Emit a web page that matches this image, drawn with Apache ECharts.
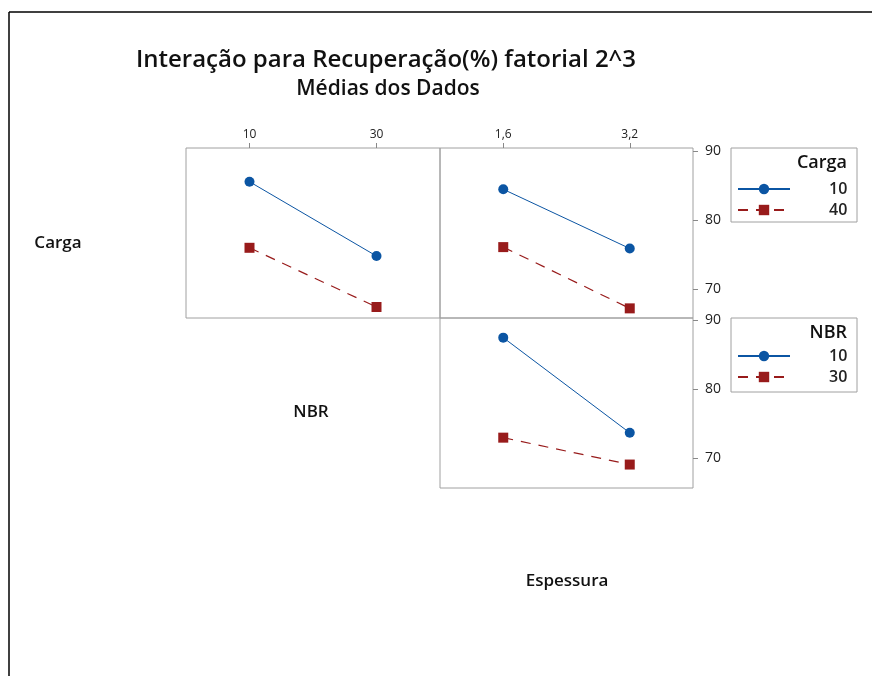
<!DOCTYPE html>
<html>
<head>
<meta charset="utf-8">
<script src="https://cdn.jsdelivr.net/npm/echarts@6/dist/echarts.min.js"></script>
<style>
  html, body { margin: 0; padding: 0; background: #fff; }
  #main { width: 872px; height: 676px; }
</style>
</head>
<body>
<div id="main"></div>
<script>
// dados (médias)
var nbrLevels = ['10', '30'];
var espLevels = ['1,6', '3,2'];
var yTicks = [70, 80, 90];

// Carga x NBR
var cargaNbr10 = [85.6, 74.8];
var cargaNbr40 = [76.0, 67.4];
// Carga x Espessura
var cargaEsp10 = [84.5, 75.9];
var cargaEsp40 = [76.1, 67.2];
// NBR x Espessura
var nbrEsp10 = [87.5, 73.7];
var nbrEsp30 = [73.0, 69.1];

var BLUE = '#0b55a3';
var RED = '#981b1b';
var FONT = '"Open Sans", "Noto Sans", sans-serif';

var chart = echarts.init(document.getElementById('main'));

function blueLine(name, x, y, data) {
  return {
    name: name, type: 'line', xAxisIndex: x, yAxisIndex: y, data: data,
    symbol: 'circle', symbolSize: 10,
    itemStyle: { color: BLUE },
    lineStyle: { color: BLUE, width: 1 },
    animation: false
  };
}
function redLine(name, x, y, data) {
  return {
    name: name, type: 'line', xAxisIndex: x, yAxisIndex: y, data: data,
    symbol: 'rect', symbolSize: 10,
    itemStyle: { color: RED },
    lineStyle: { color: RED, width: 1.2, type: [10, 8] },
    animation: false
  };
}
function xAx(grid, cats, showLabels) {
  return {
    type: 'category', gridIndex: grid, data: cats, position: 'top',
    boundaryGap: true,
    axisLine: { show: false },
    axisTick: { show: showLabels, alignWithLabel: true, length: 5, lineStyle: { color: '#888' } },
    axisLabel: { show: showLabels, margin: 7, color: '#222', fontSize: 12, fontFamily: FONT }
  };
}
function yAx(grid, min, max, show) {
  return {
    type: 'value', gridIndex: grid, min: min, max: max, position: 'right',
    splitLine: { show: false },
    axisLine: { show: false },
    axisTick: { show: show, length: 5, lineStyle: { color: '#888' }, customValues: yTicks },
    axisLabel: { show: show, margin: 12, color: '#222', fontSize: 14, fontFamily: FONT, customValues: yTicks }
  };
}
function legendAt(top, names) {
  return {
    left: 737, top: top, orient: 'vertical', padding: 0,
    data: names,
    itemWidth: 52, itemHeight: 13, itemGap: 5,
    selectedMode: false,
    textStyle: { color: '#222', fontSize: 16, lineHeight: 16, fontWeight: 600, fontFamily: FONT, padding: [0, 0, 0, 34] }
  };
}
function label(x, y, text, size, align) {
  return {
    type: 'text', x: x, y: y,
    style: { text: text, textAlign: align || 'center', textVerticalAlign: 'middle', font: '600 ' + size + 'px ' + FONT, fill: '#111' }
  };
}

var option = {
  backgroundColor: '#fff',
  textStyle: { fontFamily: FONT },
  grid: [
    { left: 186, top: 148, width: 254, height: 170, show: true, borderColor: '#a0a0a0', borderWidth: 1 },
    { left: 440, top: 148, width: 253, height: 170, show: true, borderColor: '#a0a0a0', borderWidth: 1 },
    { left: 440, top: 318, width: 253, height: 170, show: true, borderColor: '#a0a0a0', borderWidth: 1 }
  ],
  xAxis: [
    xAx(0, nbrLevels, true),
    xAx(1, espLevels, true),
    xAx(2, espLevels, false)
  ],
  yAxis: [
    yAx(0, 65.8, 90.5, false),
    yAx(1, 65.8, 90.5, true),
    yAx(2, 65.7, 90.35, true)
  ],
  legend: [
    legendAt(181, ['10', '40']),
    legendAt(348, ['10', '30'])
  ],
  series: [
    blueLine('10', 0, 0, cargaNbr10),
    redLine('40', 0, 0, cargaNbr40),
    blueLine('10', 1, 1, cargaEsp10),
    redLine('40', 1, 1, cargaEsp40),
    blueLine('10', 2, 2, nbrEsp10),
    redLine('30', 2, 2, nbrEsp30)
  ],
  graphic: [
    // moldura (só topo e esquerda aparecem no recorte)
    { type: 'line', shape: { x1: 9, y1: 12, x2: 872, y2: 12 }, style: { stroke: '#000', lineWidth: 1.5 } },
    { type: 'line', shape: { x1: 9, y1: 12, x2: 9, y2: 676 }, style: { stroke: '#000', lineWidth: 1.5 } },
    // titulos
    label(386, 60, 'Interação para Recuperação(%) fatorial 2^3', 24),
    label(388, 89, 'Médias dos Dados', 21),
    // nomes dos fatores
    label(58, 243, 'Carga', 17),
    label(311, 412, 'NBR', 17),
    label(567, 581, 'Espessura', 17),
    // caixas das legendas
    { type: 'rect', shape: { x: 731, y: 148, width: 126, height: 74 }, style: { fill: 'none', stroke: '#a0a0a0', lineWidth: 1 }, z: 0 },
    { type: 'rect', shape: { x: 731, y: 318, width: 126, height: 74 }, style: { fill: 'none', stroke: '#a0a0a0', lineWidth: 1 }, z: 0 },
    label(847, 163, 'Carga', 18, 'right'),
    label(847, 333, 'NBR', 18, 'right')
  ]
};

chart.setOption(option);
</script>
</body>
</html>
